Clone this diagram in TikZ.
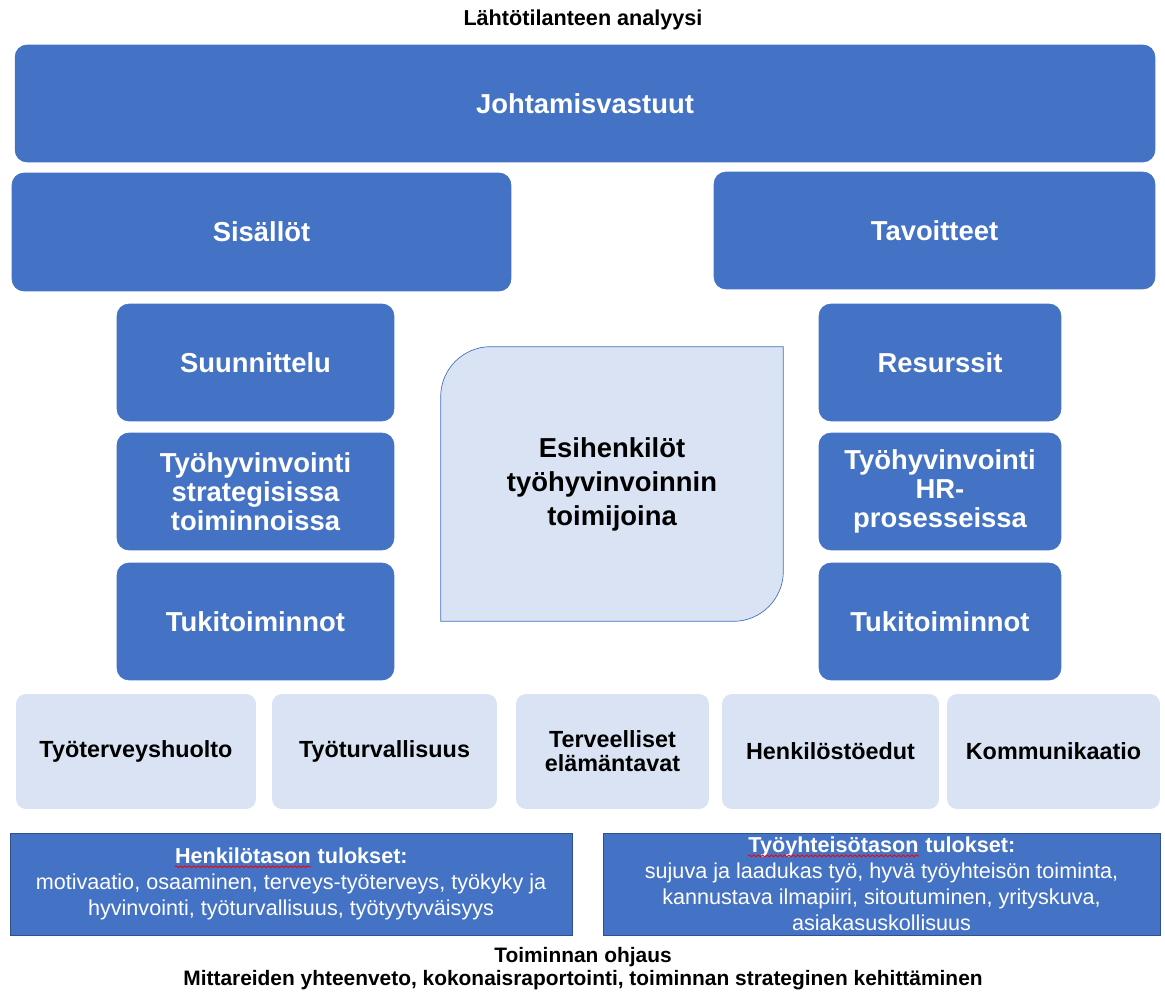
\documentclass[tikz,border=0pt]{standalone}
\usepackage{fontspec}
\setmainfont{Liberation Sans}
\usepackage{tikz}
\usetikzlibrary{backgrounds, decorations.pathmorphing}

\definecolor{bluefill}{HTML}{4472C4}
\definecolor{palefill}{HTML}{DAE3F3}
\definecolor{edgeblue}{HTML}{2F528F}

\newcommand{\spellmark}[1]{\tikz[baseline=(w.base)]{\node[draw=none, fill=none, inner sep=0pt, minimum size=0pt] (w) {#1};
  \draw[red, line width=0.5pt, decorate, decoration={snake, amplitude=0.5pt, segment length=2.5pt}]
    ([yshift=-1.8pt]w.base west) -- ([yshift=-1.8pt]w.base east);}}

\tikzset{
  darkbox/.style={rectangle, rounded corners=0.24cm, fill=bluefill, draw=bluefill, text=white,
    align=center, inner sep=2pt, font=\bfseries\fontsize{15.6}{16.4}\selectfont},
  palebox/.style={rectangle, rounded corners=0.2cm, fill=palefill, align=center, inner sep=2pt,
    minimum height=2.3cm, font=\bfseries\fontsize{13.3}{13.6}\selectfont},
  resultbox/.style={rectangle, fill=bluefill, draw=edgeblue, text=white, align=center,
    inner sep=2pt, minimum height=2.04cm, font=\fontsize{12.3}{14.8}\selectfont},
  caption/.style={align=center, font=\bfseries\fontsize{11.9}{13}\selectfont}
}

\begin{document}
\begin{tikzpicture}[x=0.02cm, y=0.02cm]
  \useasboundingbox (0, 0) rectangle (1165, 992);
  \node[caption, font=\bfseries\fontsize{12.3}{14}\selectfont] (start) at (583, 972) {Lähtötilanteen analyysi};
  \node[darkbox, minimum width=22.8cm, minimum height=2.34cm] (lead) at (585, 888.5) {Johtamisvastuut};
  \node[darkbox, minimum width=9.98cm, minimum height=2.36cm] (content) at (261.5, 760) {Sisällöt};
  \node[darkbox, minimum width=8.82cm, minimum height=2.34cm] (goals) at (934.5, 761.5) {Tavoitteet};
  % left column
  \node[darkbox, minimum width=5.54cm, minimum height=2.34cm] (plan) at (255.5, 629.5) {Suunnittelu};
  \node[darkbox, minimum width=5.54cm, minimum height=2.34cm] (strategy) at (255.5, 500.5) {Työhyvinvointi\\strategisissa\\toiminnoissa};
  \node[darkbox, minimum width=5.54cm, minimum height=2.34cm] (supportl) at (255.5, 370.5) {Tukitoiminnot};
  % right column
  \node[darkbox, minimum width=4.84cm, minimum height=2.34cm] (means) at (940, 629.5) {Resurssit};
  \node[darkbox, minimum width=4.84cm, minimum height=2.34cm] (hrproc) at (940, 500.5) {Työhyvinvointi\\HR-\\prosesseissa};
  \node[darkbox, minimum width=4.84cm, minimum height=2.34cm] (supportr) at (940, 370.5) {Tukitoiminnot};
  % centre
  \node[align=center, minimum width=6.84cm, minimum height=5.48cm,
    font=\bfseries\fontsize{15.6}{19.3}\selectfont] (boss) at (612, 508) {Esihenkilöt\\työhyvinvoinnin\\toimijoina};
  \begin{scope}[on background layer]
    \draw[draw=bluefill, fill=palefill] (boss.south west) -- ([yshift=-1cm]boss.north west)
      arc[start angle=180, end angle=90, radius=1cm] -- (boss.north east)
      -- ([yshift=1cm]boss.south east) arc[start angle=0, end angle=-90, radius=1cm] -- cycle;
  \end{scope}
  % bottom row
  \node[palebox, minimum width=4.8cm] (health) at (136, 240.5) {Työterveyshuolto};
  \node[palebox, minimum width=4.5cm] (safety) at (384.5, 240.5) {Työturvallisuus};
  \node[palebox, minimum width=3.86cm] (habits) at (612.5, 240.5) {Terveelliset\\elämäntavat};
  \node[palebox, minimum width=4.34cm] (perks) at (830.5, 240.5) {Henkilöstöedut};
  \node[palebox, minimum width=4.26cm] (talk) at (1053.5, 240.5) {Kommunikaatio};
  % results
  \node[resultbox, minimum width=11.24cm] (personal) at (291, 108)
    {\textbf{\spellmark{Henkilötason} tulokset:}\\motivaatio, osaaminen, terveys-työterveys, työkyky ja\\hyvinvointi, työturvallisuus, työtyytyväisyys};
  \node[resultbox, minimum width=11.14cm] (community) at (881.5, 108)
    {\textbf{\spellmark{Työyhteisötason} tulokset:}\\sujuva ja laadukas työ, hyvä työyhteisön toiminta,\\kannustava ilmapiiri, sitoutuminen, yrityskuva,\\asiakasuskollisuus};
  \node[caption] (steering) at (583, 23) {Toiminnan ohjaus\\Mittareiden yhteenveto, kokonaisraportointi, toiminnan strateginen kehittäminen};
\end{tikzpicture}
\end{document}
